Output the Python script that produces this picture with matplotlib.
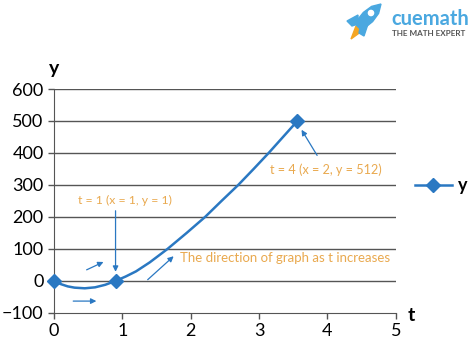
import matplotlib.pyplot as plt
from matplotlib.patches import Polygon, Circle

plt.rcParams['font.family'] = ['Lato', 'DejaVu Sans']

# curve
curve_t = [0, 0.1, 0.2, 0.3, 0.45, 0.6, 0.75, 0.9, 1.05, 1.2, 1.4, 1.66, 1.94, 2.21, 2.45, 2.695, 2.92, 3.14, 3.35, 3.56]
curve_y = [0, -10, -17, -21, -23, -20, -12, 0, 14, 30, 58, 100, 150, 200, 250, 300, 350, 400, 450, 500]
# highlighted points
mark_t = [0, 0.9, 3.56]
mark_y = [0, 0, 500]

x_ticks = [0, 1, 2, 3, 4, 5]
y_ticks = [-100, 0, 100, 200, 300, 400, 500, 600]

blue = "#2a78c2"
orange = "#e9a94f"

fig = plt.figure(figsize=(4.74, 3.56), dpi=100)
ax = fig.add_axes([0.114, 0.121, 0.721, 0.629])

ax.plot(curve_t, curve_y, color=blue, lw=1.8, zorder=3)
ax.plot(mark_t, mark_y, ls="none", marker="D", ms=7, color=blue, zorder=4, clip_on=False)

ax.set_xlim(0, 5)
ax.set_ylim(-100, 600)
ax.set_xticks(x_ticks)
ax.set_yticks(y_ticks)
ax.tick_params(labelsize=13, length=4, width=1, color="#555555")
for s in ["top", "right"]:
    ax.spines[s].set_visible(False)
for s in ["left", "bottom"]:
    ax.spines[s].set_color("#555555")
for yv in y_ticks[1:]:
    ax.axhline(yv, color="#555555", lw=1, zorder=1)

ax.text(0, 665, "y", fontsize=14, fontweight="bold", ha="center", va="center")
ax.text(5.22, -109, "t", fontsize=14, fontweight="bold", ha="center", va="center", clip_on=False)

# annotations
arr = dict(arrowstyle="-|>", color=blue, lw=0.9, mutation_scale=8)
ax.text(1.04, 253, "t = 1 (x = 1, y = 1)", color=orange, fontsize=8.8, ha="center", va="center")
ax.annotate("", xy=(0.9, 20), xytext=(0.9, 228), arrowprops=arr)
ax.text(3.97, 347, "t = 4 (x = 2, y = 512)", color=orange, fontsize=9.1, ha="center", va="center")
ax.annotate("", xy=(3.6, 480), xytext=(3.87, 385), arrowprops=arr)
ax.text(1.84, 72, "The direction of graph as t increases", color=orange,
        fontsize=9.5, ha="left", va="center")
ax.annotate("", xy=(1.78, 83), xytext=(1.34, -2), arrowprops=arr)
ax.annotate("", xy=(0.76, 63), xytext=(0.44, 31), arrowprops=arr)
ax.annotate("", xy=(0.66, -63), xytext=(0.24, -63), arrowprops=arr)

# legend
fig.lines.append(plt.Line2D([0.876, 0.953], [0.48, 0.48], color=blue, lw=1.8,
                            transform=fig.transFigure))
fig.lines.append(plt.Line2D([0.913], [0.48], color=blue, marker="D", ms=7,
                            transform=fig.transFigure))
fig.text(0.966, 0.48, "y", fontsize=13, fontweight="bold", va="center", ha="left")

# logo, drawn in pixel coordinates
logo = fig.add_axes([0, 0, 1, 1], zorder=5)
logo.set_xlim(0, 474)
logo.set_ylim(356, 0)
logo.axis("off")
logo.text(391, 19, "cuemath", fontsize=14.5, fontweight="bold", color="#4aa8e0", va="center")
logo.text(392, 33, "THE MATH EXPERT", fontsize=5.9, fontweight="bold", color="#555555", va="center")
logo.add_patch(Polygon([[356, 26], [362, 31], [351, 39]], closed=True, color="#f5a623"))
logo.add_patch(Polygon([[358, 15], [347, 21], [352, 26], [358, 24]], closed=True, color="#4aa8e0"))
logo.add_patch(Polygon([[368, 24], [364, 36], [359, 33], [360, 28]], closed=True, color="#4aa8e0"))
logo.add_patch(Polygon([[354.6, 23.4], [363.4, 12.4], [371.6, 6.4], [381, 4], [378.6, 13.4],
                        [372.6, 21.6], [361.6, 30.4]], closed=True, color="#4aa8e0"))
logo.add_patch(Circle((371, 13), 2.6, color="white"))

fig.savefig("out.png", dpi=100)
